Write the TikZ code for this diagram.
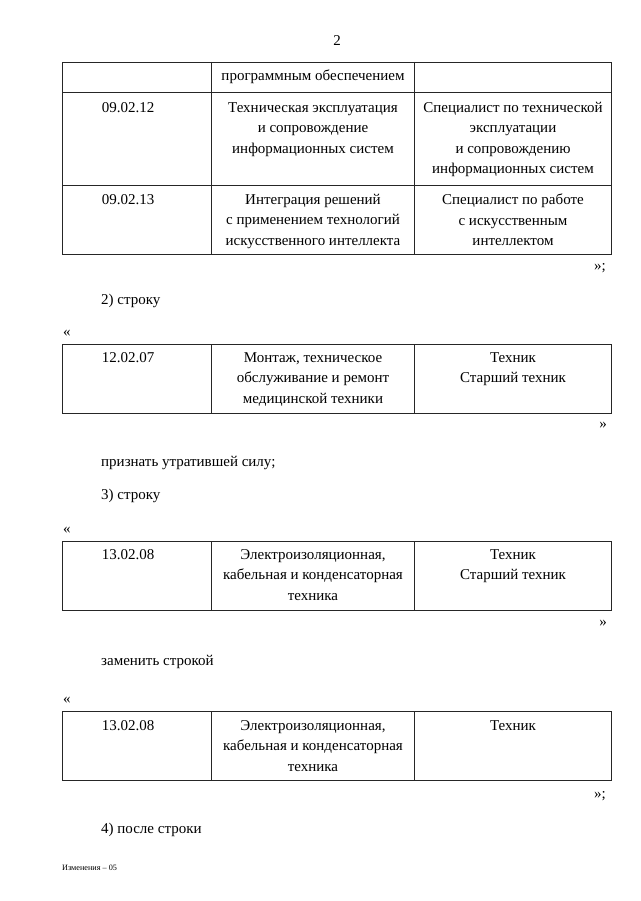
\documentclass[tikz,border=0pt]{standalone}
\usepackage{fontspec}
\setmainfont{Liberation Serif}
\begin{document}
\begin{tikzpicture}[x=1pt,y=-1pt,
    cell/.style={anchor=north,align=center,inner sep=0pt,font=\fontsize{15}{20.5}\selectfont},
    txt/.style={anchor=base west,inner sep=0pt,font=\fontsize{15}{20.5}\selectfont},
    rule/.style={line width=0.8pt,black!85}]
\useasboundingbox[fill=white] (0,0) rectangle (640,901);

% page number
\node[txt,anchor=base] (pagenum) at (337,46) {2};

% table 1 (continued)
\draw[rule] (62,62) rectangle (611,254);
\foreach \y in {92,185}
    \draw[rule] (62,\y) -- (611,\y);
\foreach \x in {211,414}
    \draw[rule] (\x,62) -- (\x,254);
\node[cell] (aMid) at (313,70) {программным обеспечением};
\node[cell] (bCode) at (128,102) {09.02.12};
\node[cell] (bName) at (313,102) {Техническая эксплуатация\\и сопровождение\\информационных систем};
\node[cell] (bQual) at (513,102) {Специалист по технической\\эксплуатации\\и сопровождению\\информационных систем};
\node[cell] (cCode) at (128,194) {09.02.13};
\node[cell] (cName) at (313,194) {Интеграция решений\\с применением технологий\\искусственного интеллекта};
\node[cell] (cQual) at (513,194) {Специалист по работе\\с искусственным\\интеллектом};
\node[txt,anchor=base east] (close1) at (606,270) {»;};

% item 2
\node[txt] (item2) at (101,304) {2) строку};
\node[txt] (open2) at (63,336) {«};
\draw[rule] (62,344) rectangle (611,413);
\foreach \x in {211,414}
    \draw[rule] (\x,344) -- (\x,413);
\node[cell] (dCode) at (128,352) {12.02.07};
\node[cell] (dName) at (313,352) {Монтаж, техническое\\обслуживание и ремонт\\медицинской техники};
\node[cell] (dQual) at (513,352) {Техник\\Старший техник};
\node[txt,anchor=base east] (close2) at (607,428) {»};
\node[txt] (repeal) at (101,466) {признать утратившей силу;};

% item 3
\node[txt] (item3) at (101,499) {3) строку};
\node[txt] (open3) at (63,533) {«};
\draw[rule] (62,541) rectangle (611,610);
\foreach \x in {211,414}
    \draw[rule] (\x,541) -- (\x,610);
\node[cell] (eCode) at (128,549) {13.02.08};
\node[cell] (eName) at (313,549) {Электроизоляционная,\\кабельная и конденсаторная\\техника};
\node[cell] (eQual) at (513,549) {Техник\\Старший техник};
\node[txt,anchor=base east] (close3) at (607,626) {»};
\node[txt] (replace) at (101,665) {заменить строкой};

% replacement row
\node[txt] (open4) at (63,703) {«};
\draw[rule] (62,711) rectangle (611,780);
\foreach \x in {211,414}
    \draw[rule] (\x,711) -- (\x,780);
\node[cell] (fCode) at (128,720) {13.02.08};
\node[cell] (fName) at (313,720) {Электроизоляционная,\\кабельная и конденсаторная\\техника};
\node[cell] (fQual) at (513,720) {Техник};
\node[txt,anchor=base east] (close4) at (606,798) {»;};

% item 4
\node[txt] (item4) at (101,833) {4) после строки};

% footer
\node[txt,font=\fontsize{8.2}{10}\selectfont] (footer) at (62,870) {Изменения – 05};
\end{tikzpicture}
\end{document}
